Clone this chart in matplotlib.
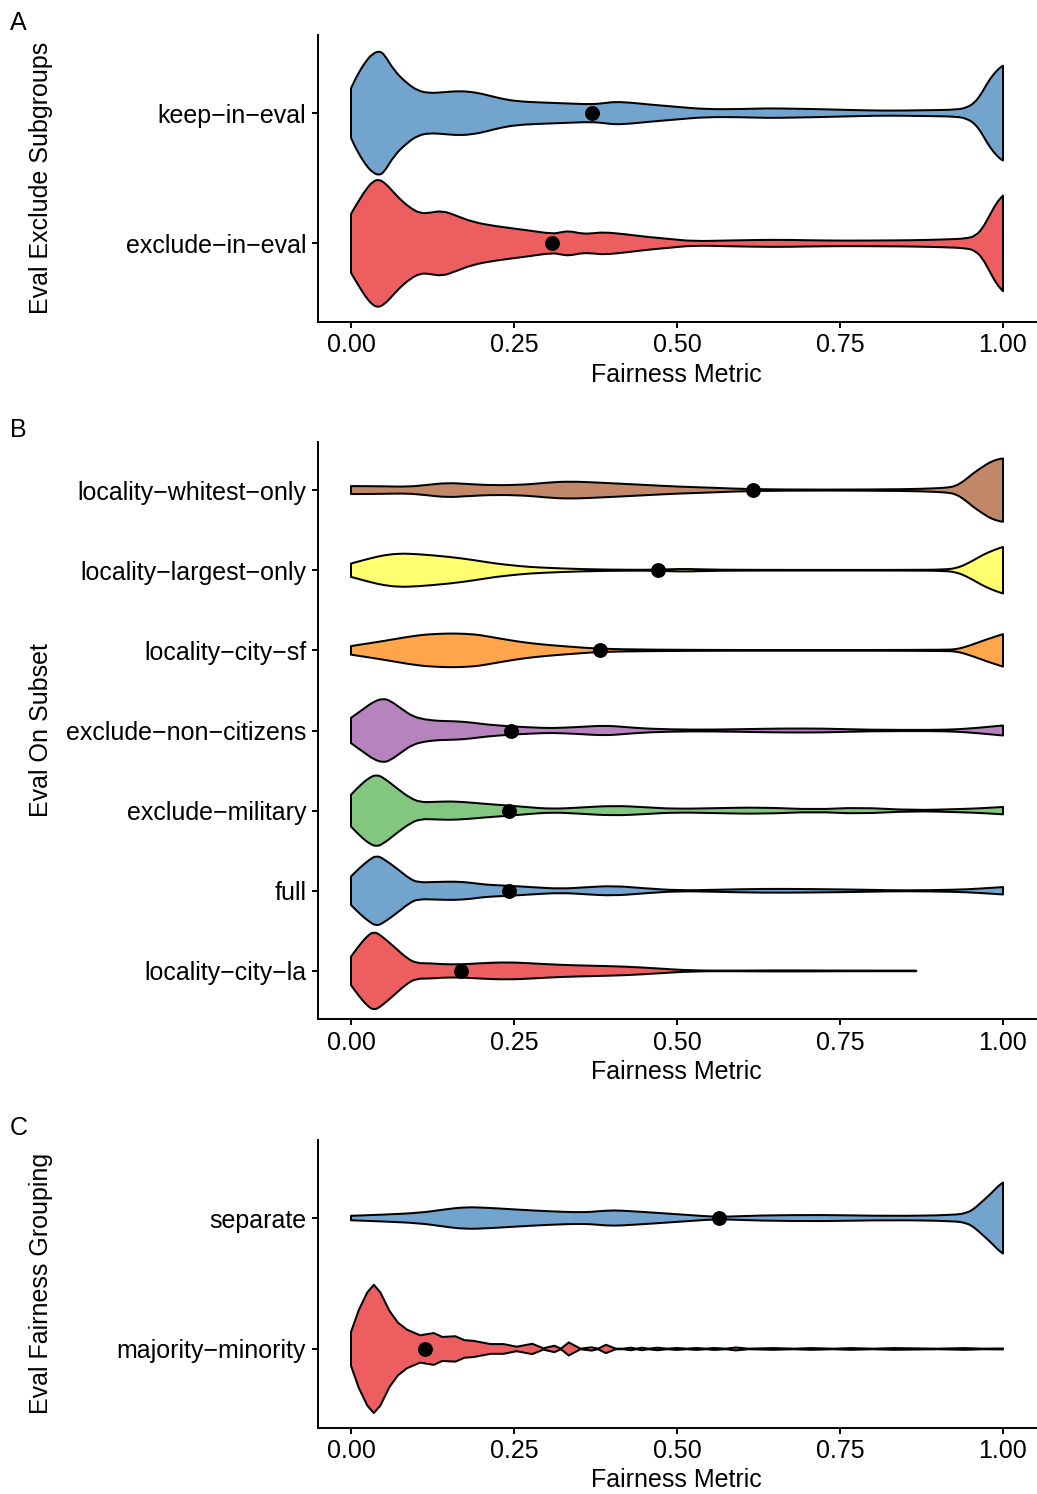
import matplotlib
matplotlib.use("Agg")
import matplotlib.pyplot as plt
from matplotlib.patches import PathPatch
from matplotlib.path import Path
from matplotlib.colors import to_rgba
import numpy as np

plt.rcParams['font.family'] = ['Liberation Sans', 'DejaVu Sans']

# ---------------- data ----------------
SET1 = ['#E41A1C', '#377EB8', '#4DAF4A', '#984EA3', '#FF7F00', '#FFFF33', '#A65628']
X_TICKS = [0.0, 0.25, 0.5, 0.75, 1.0]
X_TICK_LABELS = ['0.00', '0.25', '0.50', '0.75', '1.00']
X_TITLE = 'Fairness Metric'

# Panel A (bottom to top)
a_categories = ['exclude\u2212in\u2212eval', 'keep\u2212in\u2212eval']
a_means = [0.308, 0.369]
a_excl_x = [0, 0.01, 0.025, 0.035, 0.042, 0.05, 0.06, 0.073, 0.09, 0.106, 0.12, 0.14, 0.16, 0.187,
            0.221, 0.268, 0.309, 0.322, 0.335, 0.355, 0.372, 0.389, 0.42, 0.456, 0.49, 0.524, 0.58,
            0.651, 0.7, 0.759, 0.81, 0.86, 0.91, 0.945, 0.958, 0.968, 0.978, 0.99, 1.0]
a_excl_d = [30.5, 42, 58, 64.5, 66, 63.5, 57, 47, 37, 31, 31.5, 33.8, 29, 22,
            17.8, 13.8, 9.8, 11.5, 12.8, 9.8, 10.5, 11.5, 9.5, 6.5, 4.5, 2.2, 3,
            3.8, 3.2, 2.8, 3, 3.2, 4, 5, 8, 15, 27, 42, 49.5]
a_keep_x = [0, 0.01, 0.025, 0.035, 0.042, 0.05, 0.066, 0.086, 0.103, 0.12, 0.14, 0.167, 0.19, 0.207,
            0.23, 0.254, 0.29, 0.322, 0.369, 0.39, 0.406, 0.43, 0.456, 0.5, 0.544, 0.6, 0.638, 0.68,
            0.725, 0.78, 0.826, 0.88, 0.93, 0.945, 0.955, 0.965, 0.975, 0.985, 0.995, 1.0]
a_keep_d = [25.7, 40, 56, 62, 64, 62, 44, 30.7, 23, 20.7, 21.5, 23, 21.5, 19,
            15, 12.3, 11, 10.3, 9, 10.5, 11.7, 10.8, 9, 6.5, 4, 4.2, 5, 4.6,
            4, 3, 2.5, 3, 3.5, 6, 10, 18, 30, 40, 47, 49]

# Panel B (bottom to top)
b_categories = ['locality\u2212city\u2212la', 'full', 'exclude\u2212military', 'exclude\u2212non\u2212citizens',
                'locality\u2212city\u2212sf', 'locality\u2212largest\u2212only', 'locality\u2212whitest\u2212only']
b_means = [0.169, 0.243, 0.243, 0.246, 0.382, 0.471, 0.616]
b_la_x = [0, 0.012, 0.025, 0.035, 0.045, 0.066, 0.085, 0.1, 0.12, 0.14, 0.17, 0.2, 0.241, 0.28,
          0.322, 0.37, 0.423, 0.47, 0.524, 0.6, 0.658, 0.75, 0.867]
b_la_d = [14.3, 25, 35, 39.3, 36, 24.3, 13, 7.7, 7.7, 6.7, 6.5, 7.8, 8.7, 7.5,
          6, 5.2, 4.3, 2.5, 0.3, 0.3, 0.6, 0.3, 0.3]
b_full_x = [0, 0.015, 0.028, 0.039, 0.05, 0.073, 0.09, 0.103, 0.13, 0.16, 0.185, 0.207, 0.244, 0.28,
            0.322, 0.36, 0.402, 0.45, 0.503, 0.56, 0.631, 0.712, 0.793, 0.847, 0.927, 0.96, 1.0]
b_full_d = [14.3, 24, 31, 35.3, 32, 21, 12, 8.3, 8.8, 9.3, 8, 6, 5, 3.5,
            2, 3.5, 5, 2.5, 0.3, 1, 2, 1.7, 1, 0.3, 1, 2, 3.7]
b_mil_x = [0, 0.015, 0.028, 0.039, 0.05, 0.073, 0.09, 0.106, 0.13, 0.153, 0.18, 0.207, 0.244, 0.27,
           0.308, 0.35, 0.402, 0.45, 0.497, 0.56, 0.631, 0.712, 0.779, 0.86, 0.94, 0.97, 1.0]
b_mil_d = [16, 26, 33, 36, 33, 21, 13, 8.3, 8.8, 9.3, 8.3, 6.7, 5, 3.5,
           1.7, 3, 5, 3.5, 1.7, 2.5, 3.3, 1, 3.3, 0.3, 1.7, 2.5, 3.7]
b_noncit_x = [0, 0.02, 0.035, 0.049, 0.06, 0.079, 0.095, 0.113, 0.135, 0.16, 0.185, 0.207, 0.248,
              0.28, 0.308, 0.35, 0.389, 0.42, 0.456, 0.524, 0.59, 0.658, 0.725, 0.793, 0.894, 0.93,
              0.954, 0.975, 1.0]
b_noncit_d = [12.7, 22, 29, 32, 30, 21, 14, 11, 9.5, 9.3, 8, 6, 4,
              3, 2.3, 3.5, 5, 3.5, 1.7, 0.7, 1.2, 2, 2, 0.7, 0.5, 1.2,
              2.3, 3.5, 5]
b_sf_x = [0, 0.05, 0.1, 0.13, 0.16, 0.19, 0.207, 0.24, 0.268, 0.3, 0.335, 0.382, 0.456, 0.59, 0.8,
          0.91, 0.927, 0.94, 0.954, 0.975, 1.0]
b_sf_d = [4.3, 9.3, 15, 16.5, 17, 16, 14.3, 10.5, 7.7, 5.5, 3.7, 1.5, 0.7, 0.3, 0.3,
          0.6, 1, 3, 6, 11, 16.3]
b_largest_x = [0, 0.03, 0.05, 0.073, 0.1, 0.153, 0.19, 0.221, 0.26, 0.288, 0.355, 0.423, 0.473, 0.51,
               0.557, 0.7, 0.85, 0.914, 0.93, 0.94, 0.955, 0.968, 0.985, 1.0]
b_largest_d = [6.7, 12, 15, 16.7, 16.3, 13.3, 10, 6.7, 4, 2.7, 1, 0.4, 0.5, 1.5,
               0.4, 0.3, 0.3, 0.6, 2.5, 5, 10, 15, 20, 23.3]
b_whitest_x = [0, 0.05, 0.086, 0.115, 0.147, 0.18, 0.221, 0.27, 0.3, 0.335, 0.38, 0.456, 0.5, 0.557,
               0.614, 0.725, 0.85, 0.894, 0.915, 0.927, 0.94, 0.954, 0.968, 0.981, 0.993, 1.0]
b_whitest_d = [4, 3.8, 3.3, 5, 7.3, 6, 4.7, 5.5, 7.5, 8.7, 7.5, 5, 3.5, 2.3,
               0.8, 0.4, 0.8, 1.7, 2.5, 4, 9, 16.7, 23, 28.3, 31, 31.7]

# Panel C (bottom to top)
c_categories = ['majority\u2212minority', 'separate']
c_means = [0.113, 0.564]
c_maj_x = [0, 0.012, 0.025, 0.035, 0.045, 0.059, 0.072, 0.086, 0.106, 0.127, 0.14, 0.16, 0.174,
           0.188, 0.214, 0.234, 0.254, 0.278, 0.295, 0.312, 0.322, 0.334, 0.352, 0.369, 0.379,
           0.391, 0.406, 0.418, 0.429, 0.438, 0.446, 0.456, 0.47, 0.485, 0.5, 0.515, 0.53, 0.545,
           0.557, 0.575, 0.59, 0.61, 0.648, 0.68, 0.705, 0.74, 0.766, 0.8, 0.833, 0.9, 0.941, 0.97, 1.0]
c_maj_d = [17.3, 40, 58, 65.7, 58, 39, 27, 19.7, 14, 16.3, 12.3, 13, 9,
           8.3, 5, 5, 2.3, 5.3, 0.7, 3.3, 0.3, 6.7, 0.3, 1.7, 0.3,
           4.3, 0.3, 0.3, 1.3, 0.3, 1.3, 0.3, 1.3, 0.3, 1, 0.3, 1, 0.3,
           1, 0.3, 1.5, 0.3, 0.9, 0.3, 0.9, 0.3, 0.9, 0.3, 0.9, 0.3, 0.9, 0.3, 0.5]
c_sep_x = [0, 0.05, 0.106, 0.14, 0.174, 0.21, 0.254, 0.3, 0.355, 0.38, 0.402, 0.43, 0.47, 0.52,
           0.564, 0.624, 0.725, 0.826, 0.927, 0.945, 0.954, 0.965, 0.981, 0.993, 1.0]
c_sep_d = [2.3, 3.5, 5.3, 8.5, 11.3, 10.5, 8.7, 7, 5.7, 7, 8, 7, 5.3, 3,
           1, 2.7, 3.3, 2, 3, 5.5, 8.7, 15, 24.7, 33, 36.3]

panels = [
    dict(letter='A', ylabel='Eval Exclude Subgroups', cats=a_categories, means=a_means,
         shapes=[(a_excl_x, a_excl_d), (a_keep_x, a_keep_d)], smooth=[True, True],
         colors=[SET1[0], SET1[1]],
         rect=(318.4, 1035.6, 35, 321.5), xlab_base=382, letter_base=30),
    dict(letter='B', ylabel='Eval On Subset', cats=b_categories, means=b_means,
         shapes=[(b_la_x, b_la_d), (b_full_x, b_full_d), (b_mil_x, b_mil_d), (b_noncit_x, b_noncit_d),
                 (b_sf_x, b_sf_d), (b_largest_x, b_largest_d), (b_whitest_x, b_whitest_d)],
         smooth=[True] * 7,
         colors=SET1[:7], rect=(318.4, 1035.6, 442, 1019), xlab_base=1079, letter_base=437),
    dict(letter='C', ylabel='Eval Fairness Grouping', cats=c_categories, means=c_means,
         shapes=[(c_maj_x, c_maj_d), (c_sep_x, c_sep_d)], smooth=[False, True],
         colors=[SET1[0], SET1[1]],
         rect=(318.4, 1035.6, 1139.5, 1427.5), xlab_base=1487, letter_base=1135),
]


def edge_path(pts, smooth):
    """Edge through the read points; optionally rounded with quadratic Bezier segments."""
    if not smooth:
        return list(pts[1:]), [Path.LINETO] * (len(pts) - 1)
    verts = [(pts[0] + pts[1]) / 2]
    codes = [Path.LINETO]
    for i in range(1, len(pts) - 1):
        verts += [pts[i], (pts[i] + pts[i + 1]) / 2]
        codes += [Path.CURVE3, Path.CURVE3]
    verts.append(pts[-1])
    codes.append(Path.LINETO)
    return verts, codes


def violin_path(xs, hw, c, smooth):
    top = np.column_stack([xs, c + hw])
    bot = np.column_stack([xs[::-1], c - hw[::-1]])
    v1, c1 = edge_path(list(top), smooth)
    v2, c2 = edge_path(list(bot), smooth)
    verts = [top[0]] + v1 + [bot[0]] + v2 + [top[0]]
    codes = [Path.MOVETO] + c1 + [Path.LINETO] + c2 + [Path.CLOSEPOLY]
    return Path(np.array(verts), codes)


# ---------------- figure ----------------
W, H = 1037, 1494
fig = plt.figure(figsize=(W / 100, H / 100), dpi=100)
FS = 18
HALF_W = 0.49

for p in panels:
    l, r, t, b = p['rect']
    ax = fig.add_axes([l / W, 1 - b / H, (r - l) / W, (b - t) / H])
    n = len(p['cats'])
    dmax = max(max(d) for _, d in p['shapes'])
    for i, ((xs, ds), col, sm) in enumerate(zip(p['shapes'], p['colors'], p['smooth'])):
        c = i + 1
        xs = np.asarray(xs, float)
        hw = np.asarray(ds, float) / dmax * HALF_W
        patch = PathPatch(violin_path(xs, hw, c, sm), facecolor=to_rgba(col, 0.7),
                          edgecolor='black', linewidth=1.45, joinstyle='round', zorder=2)
        ax.add_patch(patch)
        ax.scatter([p['means'][i]], [c], s=115, color='black', zorder=4, linewidths=0)
    ax.set_xlim(-0.05, 1.05)
    ax.set_ylim(0.4, n + 0.6)
    ax.set_xticks(X_TICKS)
    ax.set_xticklabels(X_TICK_LABELS)
    ax.set_yticks(range(1, n + 1))
    ax.set_yticklabels(p['cats'])
    for s in ['top', 'right']:
        ax.spines[s].set_visible(False)
    for s in ['left', 'bottom']:
        ax.spines[s].set_linewidth(1.4)
        ax.spines[s].set_color('black')
    ax.tick_params(axis='both', labelsize=FS, colors='black', width=1.4, length=4.3)
    ax.tick_params(axis='x', pad=4)
    ax.tick_params(axis='y', pad=4.5)
    fig.text(676.5 / W, 1 - p['xlab_base'] / H, X_TITLE, ha='center', va='baseline', fontsize=FS)
    fig.text(41 / W, 1 - ((t + b) / 2) / H, p['ylabel'], rotation=90, ha='center', va='center', fontsize=FS)
    fig.text(9.5 / W, 1 - p['letter_base'] / H, p['letter'], ha='left', va='baseline', fontsize=FS)

fig.savefig('out.png', dpi=100, facecolor='white')
